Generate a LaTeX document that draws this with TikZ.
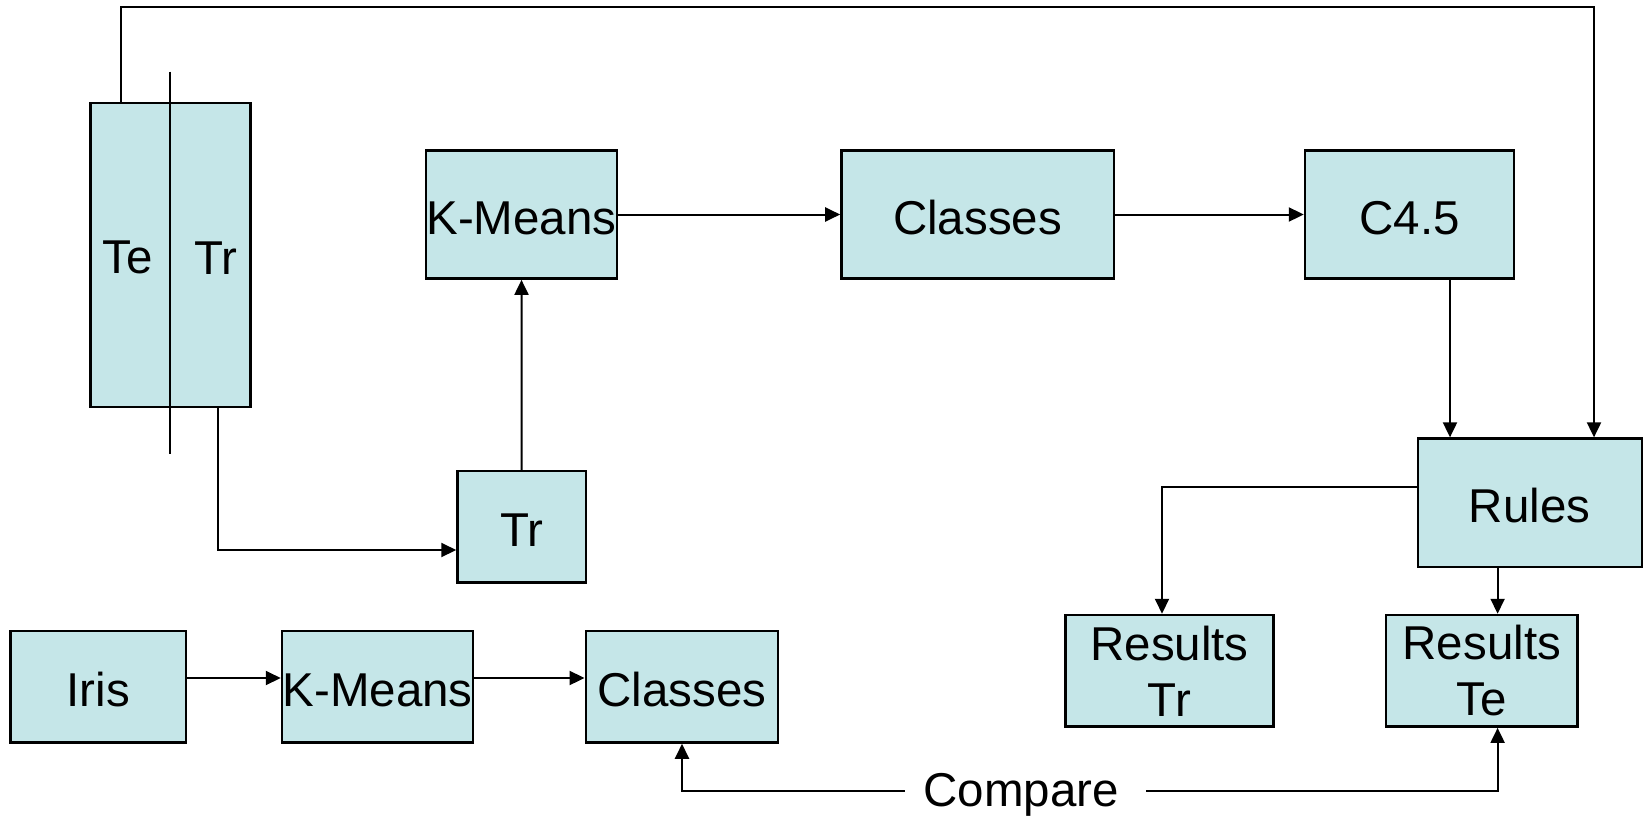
\documentclass[tikz,border=0pt]{standalone}
\usepackage{fontspec}
\setmainfont{Liberation Sans}
\usetikzlibrary{arrows.meta,calc}
\definecolor{boxfill}{RGB}{197,230,232}
\begin{document}
\begin{tikzpicture}[x=1pt,y=-1pt,
  box/.style={draw=black,line width=2.4pt,fill=boxfill,inner sep=0pt,align=center,
    font=\fontsize{47.5}{56}\selectfont},
  one/.style={text height=39pt,text depth=0pt},
  lbl/.style={inner sep=0pt,font=\fontsize{47.5}{56}\selectfont},
  conn/.style={line width=2pt,-{Triangle[length=15pt,width=14pt]}},
  plain/.style={line width=2pt}]
\useasboundingbox (0,0) rectangle (1649,817);
% boxes
\node[box,minimum width=160pt,minimum height=304pt] (tetr) at (170.35,255) {};
\node[lbl] (te) at (128,257.7) {Te};
\node[lbl] (tr) at (215.6,257.7) {Tr};
\coordinate (divtop) at (170,71.5);
\coordinate (divbot) at (170,454);
\draw[plain] (divtop) -- (divbot);
\node[box,one,minimum width=128.3pt,minimum height=111.6pt] (trs) at (521.6,526.8) {Tr};
\node[box,one,minimum width=191pt,minimum height=128.3pt] (km1) at (521.5,214.5) {K-Means};
\node[box,one,minimum width=272.4pt,minimum height=128.3pt] (cl1) at (977.6,214.5) {Classes};
\node[box,one,minimum width=209pt,minimum height=128.3pt] (c45) at (1409.5,214.5) {C4.5};
\node[box,one,minimum width=224pt,minimum height=128.3pt] (rules) at (1529.7,502.7) {Rules};
\node[box,minimum width=208.2pt,minimum height=111.7pt] (rtr) at (1169.5,670.8) {Results\\Tr};
\node[box,minimum width=191.5pt,minimum height=111.7pt] (rte) at (1481.8,670.8) {Results\\Te};
\node[box,one,minimum width=175.5pt,minimum height=111.5pt] (iris) at (98.2,686.8) {Iris};
\node[box,one,minimum width=191.3pt,minimum height=111.5pt] (km2) at (377.6,686.8) {K-Means};
\node[box,one,minimum width=192.5pt,minimum height=111.5pt] (cl2) at (682,686.8) {Classes};
\node[lbl] (cmp) at (1021,795) {Compare};
% connectors
\coordinate (topleft) at ($(tetr.north west)+(31.6,0)$);
\coordinate (topright) at (1594,7.4);
\draw[conn] (topleft) |- (topright) -- (topright |- rules.north);
\coordinate (trcorner) at (217.7,550);
\draw[conn] (trcorner |- tetr.south) -- (trcorner) -- (trcorner -| trs.west);
\draw[conn] (trs.north) -- (km1.south);
\draw[conn] (km1.east) -- (cl1.west);
\draw[conn] (cl1.east) -- (c45.west);
\coordinate (c45out) at ($(c45.south)+(40.5,0)$);
\draw[conn] (c45out) -- (c45out |- rules.north);
\coordinate (rulesout) at ($(rules.west)+(0,-15.7)$);
\coordinate (rtrin) at ($(rtr.north)+(-7.5,0)$);
\draw[conn] (rulesout) -| (rtrin);
\coordinate (rteup) at (1497.6,726.7);
\draw[conn] (rules.south -| rteup) -- (rteup |- rte.north);
\coordinate (lowrow) at (0,678);
\draw[conn] (iris.east |- lowrow) -- (km2.west |- lowrow);
\draw[conn] (km2.east |- lowrow) -- (cl2.west |- lowrow);
\coordinate (cmpL) at (904.5,791);
\coordinate (cmpR) at (1146,791);
\draw[conn] (cmpL) -| (cl2.south);
\draw[conn] (cmpR) -| (rte.south -| rteup);
\end{tikzpicture}
\end{document}
